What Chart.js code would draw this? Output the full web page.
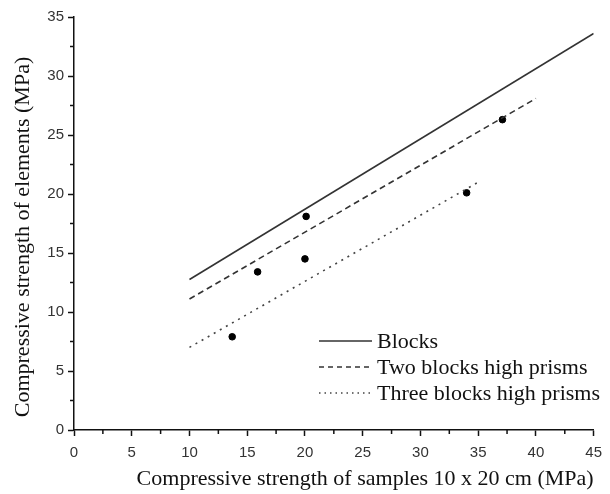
<!DOCTYPE html>
<html>
<head>
<meta charset="utf-8">
<script src="https://cdn.jsdelivr.net/npm/chart.js"></script>
<style>
  body { margin: 0; background: #fff; }
</style>
</head>
<body>
<canvas id="StrengthChart" width="610" height="494"></canvas>
<script>
// fitted lines
const blocksX = [10, 45];
const blocksY = [12.75, 33.6];
const twoX = [10, 40];
const twoY = [11.1, 28.1];
const threeX = [10, 35];
const threeY = [7.0, 21.0];
// measured samples
const sampleX = [13.7, 15.9, 20.0, 20.1, 34.0, 37.1];
const sampleY = [7.9, 13.4, 14.5, 18.1, 20.1, 26.3];

const xTicks = [0, 5, 10, 15, 20, 25, 30, 35, 40, 45];
const yTicks = [0, 5, 10, 15, 20, 25, 30, 35];

const xTitle = 'Compressive strength of samples 10 x 20 cm (MPa)';
const yTitle = 'Compressive strength of elements (MPa)';

const serif = '"Liberation Serif", "Times New Roman", serif';

function pts(xs, ys) {
    return xs.map((x, i) => ({ x: x, y: ys[i] }));
}

const minorTicks = {
    id: 'minorTicks',
    afterDraw(chart) {
        const ctx = chart.ctx;
        const xs = chart.scales.x, ys = chart.scales.y;
        ctx.save();
        ctx.strokeStyle = '#111';
        ctx.lineWidth = 1.5;
        ctx.beginPath();
        for (let i = 0; i < xTicks.length - 1; i++) {
            const px = xs.getPixelForValue((xTicks[i] + xTicks[i + 1]) / 2);
            ctx.moveTo(px, ys.bottom);
            ctx.lineTo(px, ys.bottom + 4);
        }
        for (let i = 0; i < yTicks.length - 1; i++) {
            const py = ys.getPixelForValue((yTicks[i] + yTicks[i + 1]) / 2);
            ctx.moveTo(xs.left, py);
            ctx.lineTo(xs.left - 4, py);
        }
        ctx.stroke();
        ctx.restore();
    }
};

// y title sits a bit below the axis middle in the original
const sideTitle = {
    id: 'sideTitle',
    afterDraw(chart) {
        const ctx = chart.ctx;
        ctx.save();
        ctx.translate(23, 237);
        ctx.rotate(-Math.PI / 2);
        ctx.font = '22px ' + serif;
        ctx.fillStyle = '#111';
        ctx.textAlign = 'center';
        ctx.textBaseline = 'middle';
        ctx.fillText(yTitle, 0, 0);
        ctx.restore();
    }
};

const lineLegend = {
    id: 'lineLegend',
    afterDraw(chart) {
        const ctx = chart.ctx;
        const area = chart.chartArea;
        const items = chart.data.datasets.filter(d => d.showLine);
        const x0 = area.left + 245, y0 = area.top + 324, rowH = 26;
        ctx.save();
        ctx.font = '22px ' + serif;
        ctx.textBaseline = 'middle';
        ctx.fillStyle = '#111';
        items.forEach((d, i) => {
            const y = y0 + i * rowH;
            ctx.beginPath();
            ctx.strokeStyle = d.borderColor;
            ctx.lineWidth = d.borderWidth;
            ctx.setLineDash(d.legendDash || []);
            ctx.moveTo(x0, y);
            ctx.lineTo(x0 + 53, y);
            ctx.stroke();
            ctx.fillText(d.label, x0 + 58, y + 1);
        });
        ctx.restore();
    }
};

const ctx = document.getElementById('StrengthChart').getContext('2d');
const strengthChart = new Chart(ctx, {
    type: 'scatter',
    data: {
        datasets: [{
            label: 'Blocks',
            data: pts(blocksX, blocksY),
            showLine: true,
            borderColor: '#333',
            borderWidth: 1.6,
            pointRadius: 0
        },
        {
            label: 'Two blocks high prisms',
            data: pts(twoX, twoY),
            showLine: true,
            borderColor: '#333',
            borderWidth: 1.6,
            borderDash: [6, 4],
            legendDash: [5, 4],
            pointRadius: 0
        },
        {
            label: 'Three blocks high prisms',
            data: pts(threeX, threeY),
            showLine: true,
            borderColor: '#444',
            borderWidth: 1.6,
            borderDash: [2, 5],
            legendDash: [1.5, 4],
            pointRadius: 0
        },
        {
            label: 'Samples',
            data: pts(sampleX, sampleY),
            showLine: false,
            backgroundColor: '#000',
            borderColor: '#000',
            pointRadius: 3.3,
            pointStyle: 'circle'
        }
        ]
    },
    options: {
        responsive: false,
        animation: false,
        layout: {
            padding: { top: 17, right: 15, left: 0, bottom: 0 }
        },
        plugins: {
            legend: { display: false },
            tooltip: { enabled: false }
        },
        scales: {
            x: {
                type: 'linear',
                min: 0,
                max: 45,
                afterFit(scale) { scale.height = 64; },
                afterBuildTicks(scale) { scale.ticks = xTicks.map(v => ({ value: v })); },
                grid: { drawOnChartArea: false, tickLength: 6, tickWidth: 1.5, tickColor: '#111' },
                border: { color: '#111', width: 1.5 },
                ticks: {
                    color: '#333',
                    padding: 8,
                    font: { family: '"Liberation Sans", Arial, sans-serif', size: 15 }
                },
                title: {
                    display: true,
                    align: 'end',
                    text: xTitle,
                    color: '#111',
                    padding: { top: 0, bottom: 2 },
                    font: { family: serif, size: 22 }
                }
            },
            y: {
                type: 'linear',
                min: 0,
                max: 35,
                afterFit(scale) { scale.width = 74; },
                afterBuildTicks(scale) { scale.ticks = yTicks.map(v => ({ value: v })); },
                grid: { drawOnChartArea: false, tickLength: 6, tickWidth: 1.5, tickColor: '#111' },
                border: { color: '#111', width: 1.5 },
                ticks: {
                    color: '#333',
                    padding: 4,
                    font: { family: '"Liberation Sans", Arial, sans-serif', size: 15 }
                },
                title: { display: false }
            }
        }
    },
    plugins: [minorTicks, sideTitle, lineLegend]
});
</script>
</body>
</html>
